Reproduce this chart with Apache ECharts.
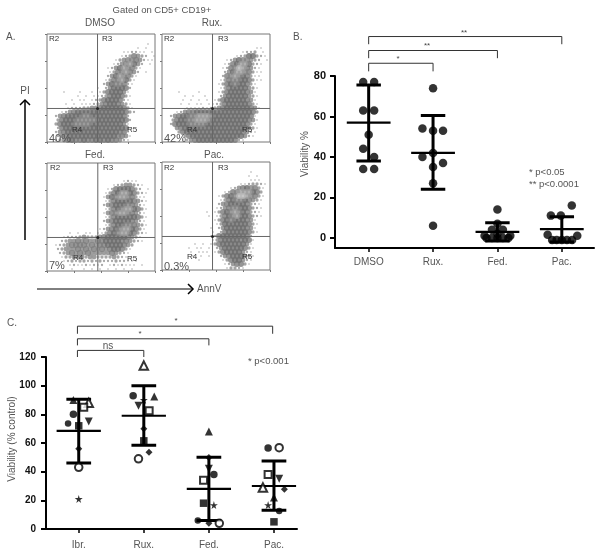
<!DOCTYPE html>
<html>
<head>
<meta charset="utf-8">
<script src="https://cdn.jsdelivr.net/npm/echarts@6/dist/echarts.min.js"></script>
<style>
html,body{margin:0;padding:0;background:#fff}
#main{width:602px;height:554px}
</style>
</head>
<body>
<div id="main"></div>
<script>
// panel A: event density, one digit per cell, top row first
var dmsoCells = [
"...........................",
"...........................",
".........................1.",
"......................1.1..",
"...................112211.1",
"..................1235432.1",
".................1347754211",
"................12478642.1.",
"...............124687531...",
"...............13578542.1..",
"...............24687531....",
"..............13578631.....",
"..............24677521.....",
"............1.2466652......",
"....1...1..1.13566641......",
".......1.1.1123566531......",
"......1.11.1235666521......",
"....1.1.1112345665431......",
".....12223344566666531.....",
"...1245666666666666532.....",
"..2456666776666666652......",
"..3566677777666666652......",
"..3566677776666666641......",
"..2566666666666666651......",
"..2456666666666666551......",
"..2456666666666665541......",
"..2345655655665655421......"
];
var ruxCells = [
"...........................",
"...........................",
"...........................",
".......................11..",
"....................1223.1.",
"..................12366321.",
"................124677432.1",
"...............1256886321..",
"...............1257985421..",
"...............2468875311..",
"...............2578765311..",
"..............13577665311..",
"..............1356766531...",
"..............1356666431...",
"....1....1....1356666541...",
".....1.1..1...2466666431...",
".....1.1.1.1.13566666541...",
"....1.1.11.1123566666531...",
"......1111212345666666541..",
"...124556666666666666653...",
"..2456677888766666666651...",
"..3566778887666666666541...",
"..2566677776666666666531...",
"...456666666666666666431...",
"....35666666666666665421...",
".....356666666666666421....",
".....1245666666666521......"
];
var fedCells = [
"...........................",
"...........................",
"...........................",
"...........................",
"...................1211....",
"................12344321...",
"...............125666532.1.",
"..............13568865321..",
"..............14678875311..",
"..............13566665421..",
"..............24566675421..",
"..............13567886531..",
"..............14578875421..",
"..............13566666531..",
"..............24566665421..",
"..............13566775431..",
".............124567886531..",
".....1.1.11.1135678865321..",
"....12223433345666665431...",
"...234454544556666554321...",
"..12345555454556666543.....",
"..2344454545454566531......",
"...234545454444454321......",
"...133444344333343211......",
"....1232332323222322111....",
".....121121212.1212111.1...",
"......1..1.1.1.1.1.1.1....."
];
var pacCells = [
"...........................",
"...........................",
"......................1....",
".....................1.1...",
"......................111..",
"...................1123321.",
".................124567531.",
"...............1257888653..",
"..............135679987531.",
"..............13567765431..",
"..............24566665321..",
".............124577665321..",
"...........1.135678765321..",
"...........1.135678665321..",
".............13567666541...",
".............13666666531...",
"............1.2466666541...",
"............1.2566666531...",
"............12566666652....",
"............13566665651....",
"........1.1.13566666641....",
"......1.11.1.2466666531....",
".......1.111.1356666421....",
".......1.1.1..245666431....",
".........1.....13566421....",
"...............1245531.....",
"................13321......"
];
var densityColors = ['#fff','#8c8c8c','#929292','#8f8f8f','#868686','#7a7a7a','#6c6c6c','#838383','#9c9c9c','#b8b8b8'];
var densitySizes = [0,1.5,2.3,3.3,4.8,6,6,6,6,6];

// panel B
var viabilityCats = ['DMSO','Rux.','Fed.','Pac.'];
var viabilityPoints = [
  [0.915,77],[1.085,77],[0.915,63],[1.085,63],[1,51],[0.915,44],[1.085,40],[0.915,34],[1.085,34],
  [2,74],[1.835,54],[2,53],[2.155,53],[2,42],[1.835,40],[2.155,37],[2,35],[2,27],[2,6],
  [3,14],[3,7],[2.915,4],[3.085,4],[3,2],[2.8,1],[3.2,1],[2.83,0],[2.915,0],[3,0],[3.085,0],[3.17,0],
  [4.155,16],[3.83,11],[3.985,11],[3.78,1.5],[4.24,1],[3.85,-1],[3.92,-1],[4,-1],[4.08,-1],[4.16,-1]
];
var viabilityMean = [57,42,3,4.3];
var viabilityHigh = [75.5,60.5,7.5,10.5];
var viabilityLow = [38,24,-1.5,-2];

// panel C
var controlCats = ['Ibr.','Rux.','Fed.','Pac.'];
var triUpPoints = [[0.918,90],[2.16,92.5],[3,68],[4,22]];
var triOpenPoints = [[1.154,88],[2,114],[3.83,29]];
var squareOpenPoints = [[1.077,85],[2.082,82.5],[2.918,34],[3.91,38]];
var circlePoints = [[0.918,80],[1.836,93],[3.077,38],[3.91,56.5]];
var smallCirclePoints = [[0.836,73.6],[2.83,6],[4.08,12.5]];
var squarePoints = [[1,72],[2,61.5],[2.918,18],[4,5]];
var triDownPoints = [[1.154,75],[1.918,86],[3,42],[4.08,35]];
var diamondPoints = [[1,56],[2,70],[2.08,53.5],[3,4],[3,49.8],[4.16,27.8]];
var circleOpenPoints = [[1,43],[1.918,49],[3.16,4],[4.08,56.7]];
var starPoints = [[1,21],[2,90],[3.077,16.7],[3.91,16.7]];
var controlMean = [68.5,79,28,30];
var controlHigh = [90.5,100,50,47.5];
var controlLow = [46,58.5,6,13];

var starPath = 'path://M50 0 L61 35 L98 35 L68 57 L79 91 L50 70 L21 91 L32 57 L2 35 L39 35 Z';
var grids = [], xAxes = [], yAxes = [], series = [], labels = [];

function seg(g,x1,y1,x2,y2,w,color){
  series.push({type:'line',xAxisIndex:g,yAxisIndex:g,data:[[x1,y1],[x2,y2]],showSymbol:false,symbol:'none',
    clip:false,silent:true,animation:false,z:5,lineStyle:{width:w,color:color}});
}
function txt(x,y,s,font,fill,align,rot){
  labels.push({type:'text',x:x,y:y,rotation:rot||0,z:20,silent:true,
    style:{text:s,font:font,fill:fill||'#555',align:align||'left',verticalAlign:'middle'}});
}

function flowPanel(cells,left,top,crossX,crossY){
  var g = grids.length;
  grids.push({left:left,top:top,width:108,height:108,show:true,borderColor:'#777',borderWidth:1,backgroundColor:'transparent'});
  var ax = {type:'value',gridIndex:g,min:0,max:27,interval:6.75,axisLine:{show:false},splitLine:{show:false},
    axisLabel:{show:false},axisTick:{show:true,length:2,lineStyle:{color:'#777'}}};
  xAxes.push(ax);
  yAxes.push(Object.assign({},ax));
  var data = [];
  cells.forEach(function(row,r){
    for(var c=0;c<27;c++){
      // every other row is set half a cell over, a square lattice shows up as a halftone
      if(row[c] && row[c]!='.') data.push([c+(r%2?0.75:0.25),26.5-r,+row[c]]);
    }
  });
  // sparse cells first so the dense body sits on top
  data.sort(function(a,b){return a[2]-b[2]});
  series.push({type:'scatter',xAxisIndex:g,yAxisIndex:g,data:data,symbol:'circle',silent:true,animation:false,
    symbolSize:function(v){return densitySizes[v[2]]},
    itemStyle:{color:function(p){return densityColors[p.value[2]]}}});
  seg(g,crossX,0,crossX,27,1,'#666');
  seg(g,0,crossY,27,crossY,1,'#666');
  series.push({type:'scatter',xAxisIndex:g,yAxisIndex:g,data:[[crossX,crossY]],symbolSize:3,silent:true,animation:false,z:6,itemStyle:{color:'#111'}});
}
flowPanel(dmsoCells,47,34,12.63,8.38);
flowPanel(ruxCells,162,34,12.63,8.38);
flowPanel(fedCells,47,163,12.7,8.38);
flowPanel(pacCells,162,162,12.63,8.38);

function statBars(g,means,highs,lows,meanW,capW,stemW){
  means.forEach(function(m,i){
    var x = i+1;
    seg(g,x,lows[i],x,highs[i],stemW,'#000');
    seg(g,x-0.34,m,x+0.34,m,meanW,'#000');
    seg(g,x-0.19,highs[i],x+0.19,highs[i],capW,'#000');
    seg(g,x-0.19,lows[i],x+0.19,lows[i],capW,'#000');
  });
}
function bracket(g,x1,x2,top,drop){
  series.push({type:'line',xAxisIndex:g,yAxisIndex:g,data:[[x1,top-drop],[x1,top],[x2,top],[x2,top-drop]],symbol:'none',showSymbol:false,
    clip:false,silent:true,animation:false,lineStyle:{width:1,color:'#333'}});
}
function statAxes(g,cats,xMin,xMax,yMin,yMax,yVals,font,weight,xMargin,yMargin){
  xAxes.push({type:'value',gridIndex:g,min:xMin,max:xMax,splitLine:{show:false},
    axisLine:{onZero:false,lineStyle:{color:'#000',width:2}},
    axisTick:{length:4,customValues:[1,2,3,4],lineStyle:{color:'#000',width:1.5}},
    axisLabel:{customValues:[1,2,3,4],margin:xMargin,color:'#555',fontSize:10,fontFamily:'Liberation Sans',
      formatter:function(v){return cats[v-1]}}});
  yAxes.push({type:'value',gridIndex:g,min:yMin,max:yMax,splitLine:{show:false},
    axisLine:{onZero:false,lineStyle:{color:'#000',width:2}},
    axisTick:{length:5,customValues:yVals,lineStyle:{color:'#000',width:2}},
    axisLabel:{customValues:yVals,margin:yMargin,color:'#111',fontSize:font,fontWeight:weight,fontFamily:'Liberation Sans'}});
}

// panel B
grids.push({left:335,right:8,top:76,bottom:306});
statAxes(4,viabilityCats,0.477,4.5,-5,80,[0,20,40,60,80],11,'bold',9,9);
statBars(4,viabilityMean,viabilityHigh,viabilityLow,2.2,3,3);
series.push({type:'scatter',xAxisIndex:4,yAxisIndex:4,data:viabilityPoints,symbolSize:8.5,silent:true,animation:false,clip:false,z:6,itemStyle:{color:'#000'}});
bracket(4,1,2,86.3,4);
bracket(4,1,3,92.6,3.8);
bracket(4,1,4,99.5,3.8);

// panel C
grids.push({left:46,right:305,top:357,bottom:25});
statAxes(5,controlCats,0.497,4.354,0,120,[0,20,40,60,80,100,120],10,'bold',11,10);
statBars(5,controlMean,controlHigh,controlLow,2.2,3,3);
function marks(data,symbol,size,open,rotate){
  series.push({type:'scatter',xAxisIndex:5,yAxisIndex:5,data:data,symbol:symbol,symbolSize:size,symbolRotate:rotate||0,silent:true,animation:false,clip:false,z:open?7:6,
    itemStyle:open?{color:'#fff',borderColor:'#000',borderWidth:2}:{color:'#000'}});
}
marks(triUpPoints,'triangle',8);
marks(triOpenPoints,'triangle',8.5,true);
marks(squareOpenPoints,'rect',7,true);
marks(circlePoints,'circle',7.5);
marks(smallCirclePoints,'circle',6.5);
marks(squarePoints,'rect',7.5);
marks(triDownPoints,'triangle',8,false,180);
marks(diamondPoints,'diamond',7);
marks(circleOpenPoints,'circle',7.5,true);
marks(starPoints,starPath,8);
bracket(5,0.98,2,124.6,4.6);
bracket(5,0.98,3,132.7,4.6);
bracket(5,0.98,3.98,141.5,5.3);

// text
var f10 = '10px "Liberation Sans"', f8 = '8px "Liberation Sans"', f9 = '9.5px "Liberation Sans"', f11 = '11px "Liberation Sans"';
txt(162,10,'Gated on CD5+ CD19+',f9,'#555','center');
txt(100,23,'DMSO',f10,'#555','center');
txt(212,23,'Rux.',f10,'#555','center');
txt(95,155,'Fed.',f10,'#555','center');
txt(214,155,'Pac.',f10,'#555','center');
txt(6,37,'A.',f10); txt(293,37,'B.',f10); txt(7,323,'C.',f10);
[[49,39,'R2'],[102,39,'R3'],[72,130,'R4'],[127,130,'R5'],
 [164,39,'R2'],[218,39,'R3'],[187,130,'R4'],[242,130,'R5'],
 [50,168,'R2'],[103,168,'R3'],[73,258,'R4'],[127,259,'R5'],
 [164,168,'R2'],[218,168,'R3'],[187,257,'R4'],[242,257,'R5']].forEach(function(a){txt(a[0],a[1],a[2],f8,'#333')});
txt(49,139,'40%',f11); txt(164,139,'42%',f11); txt(49,266,'7%',f11); txt(164,267,'0.3%',f11);
txt(25,91,'PI',f10,'#555','center');
txt(197,289,'AnnV',f10);
txt(398,59,'*',f8,'#444','center');
txt(427,46,'**',f8,'#444','center');
txt(464,33,'**',f8,'#444','center');
txt(529,172,'* p<0.05',f9);
txt(529,184,'** p<0.0001',f9);
txt(305,154,'Viability %',f10,'#555','center',Math.PI/2);
txt(12,439,'Viability (% control)',f10,'#555','center',Math.PI/2);
txt(108,346,'ns',f10,'#555','center');
txt(140,334,'*',f8,'#444','center');
txt(176,321,'*',f8,'#444','center');
txt(248,361,'* p<0.001',f9);

// arrows
function polyline(points,w){
  labels.push({type:'polyline',z:10,silent:true,shape:{points:points},style:{stroke:'#000',lineWidth:w,fill:null}});
}
polyline([[25,240],[25,100]],1.5);
polyline([[20,105],[25,100],[30,105]],1.5);
polyline([[37,289],[192,289]],1);
polyline([[188,284],[193,289],[188,294]],1.5);

var myChart = echarts.init(document.getElementById('main'),null,{renderer:'canvas'});
myChart.setOption({
  animation:false,
  backgroundColor:'#fff',
  grid:grids,
  xAxis:xAxes,
  yAxis:yAxes,
  series:series,
  graphic:{elements:labels}
});
</script>
</body>
</html>
